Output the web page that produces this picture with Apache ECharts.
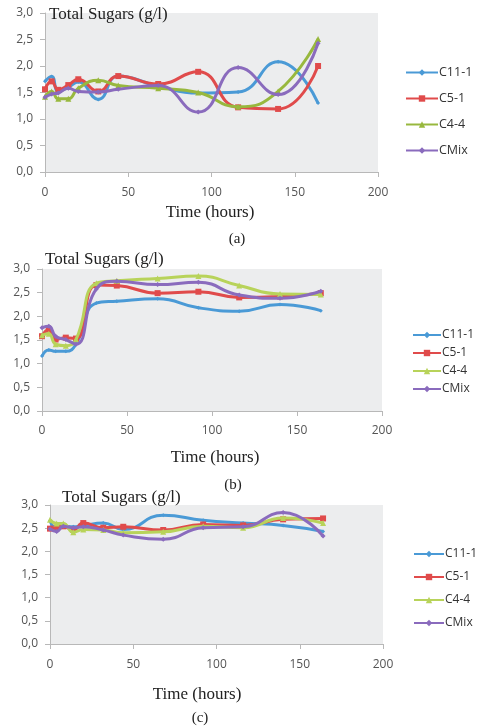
<!DOCTYPE html>
<html><head><meta charset="utf-8">
<script src="https://cdn.jsdelivr.net/npm/echarts@6/dist/echarts.min.js"></script>
<style>
html,body{margin:0;padding:0;background:#fff;width:479px;height:726px;overflow:hidden}
.p{position:absolute;left:0;width:479px}
</style></head><body>
<div id="pa" class="p" style="top:0;height:250px"></div>
<div id="pb" class="p" style="top:250px;height:245px"></div>
<div id="pc" class="p" style="top:488px;height:238px"></div>
<script>
const hours = [0, 4, 8, 14, 20, 32, 44, 68, 92, 116, 140, 164];
const seriesNames = ['C11-1', 'C5-1', 'C4-4', 'CMix'];
const xTicks = [0, 50, 100, 150, 200];
const yTicks = [0, 0.5, 1.0, 1.5, 2.0, 2.5, 3.0];

// Panel (a)
const a_C11 = [1.71, 1.80, 1.52, 1.60, 1.70, 1.37, 1.81, 1.62, 1.49, 1.51, 2.08, 1.30];
const a_C5  = [1.56, 1.71, 1.55, 1.64, 1.75, 1.52, 1.81, 1.66, 1.89, 1.22, 1.19, 2.00];
const a_C44 = [1.42, 1.52, 1.38, 1.38, 1.58, 1.73, 1.63, 1.58, 1.50, 1.23, 1.52, 2.51];
const a_CMix= [1.41, 1.47, 1.49, 1.58, 1.52, 1.51, 1.56, 1.63, 1.13, 1.97, 1.46, 2.43];
// Panel (b)
const b_C11 = [1.16, 1.29, 1.26, 1.26, 1.41, 2.28, 2.32, 2.37, 2.18, 2.11, 2.25, 2.12];
const b_C5  = [1.58, 1.72, 1.51, 1.55, 1.53, 2.66, 2.65, 2.49, 2.52, 2.40, 2.42, 2.49];
const b_C44 = [1.60, 1.63, 1.41, 1.38, 1.51, 2.70, 2.75, 2.80, 2.85, 2.65, 2.47, 2.46];
const b_CMix= [1.76, 1.79, 1.58, 1.51, 1.41, 2.58, 2.74, 2.67, 2.72, 2.45, 2.38, 2.53];
// Panel (c)
const c_C11 = [2.66, 2.49, 2.54, 2.53, 2.56, 2.61, 2.47, 2.78, 2.67, 2.61, 2.56, 2.43];
const c_C5  = [2.49, 2.51, 2.54, 2.46, 2.61, 2.51, 2.53, 2.46, 2.58, 2.56, 2.69, 2.71];
const c_C44 = [2.68, 2.60, 2.60, 2.41, 2.47, 2.46, 2.40, 2.42, 2.54, 2.51, 2.72, 2.61];
const c_CMix= [2.48, 2.43, 2.54, 2.51, 2.53, 2.46, 2.35, 2.26, 2.51, 2.53, 2.84, 2.33];

const titleText = 'Total Sugars (g/l)';
const xName = 'Time (hours)';

const serifFont = '"Liberation Serif", "Times New Roman", serif';
const sansFont = '"Open Sans", "DejaVu Sans", sans-serif';

function pairs(vals){ return hours.map((h,i)=>[h, vals[i]]); }

function makePanel(id, cfg){
  const chart = echarts.init(document.getElementById(id), null, {renderer:'canvas'});
  const colors = cfg.colors;
  const symbols = ['diamond','rect','triangle','diamond'];
  const symSizes = [4,6,6,5];
  const data = cfg.data;
  const series = seriesNames.map((n,i)=>({
    name:n, type:'line', smooth:0.5,
    data: pairs(data[i]),
    symbol: symbols[i], symbolSize: symSizes[i], showSymbol:true,
    itemStyle:{color:colors[i]},
    lineStyle:{color:colors[i], width:3},
    emphasis:{disabled:true}, animation:false, z: 2+i
  }));
  chart.setOption({
    animation:false,
    textStyle:{fontFamily:sansFont},
    grid:{left:cfg.grid.left, top:cfg.grid.top, width:cfg.grid.width, height:cfg.grid.height,
      show:true, backgroundColor:'#ecedee', borderWidth:0},
    xAxis:{type:'value', min:0, max:200, interval:50,
      axisLine:{show:true, lineStyle:{color:'#b8b8b8', width:1}},
      axisTick:{show:true, length:5, lineStyle:{color:'#b8b8b8'}},
      axisLabel:{color:'#555', fontSize:12, fontFamily:sansFont, margin:cfg.xMargin,
        formatter:v=> xTicks.includes(v) ? String(v) : ''},
      splitLine:{show:false}},
    yAxis:{type:'value', min:0, max:3, interval:0.5,
      axisLine:{show:true, lineStyle:{color:'#b8b8b8', width:1}},
      axisTick:{show:true, length:5, lineStyle:{color:'#b8b8b8'}},
      axisLabel:{color:'#555', fontSize:12, fontFamily:sansFont, margin:12,
        formatter:v=> yTicks.includes(v) ? v.toFixed(1).replace('.', ',') : ''},
      splitLine:{show:false}},
    legend:{orient:'vertical', left:cfg.legend.left, top:cfg.legend.top, padding:0,
      itemWidth:cfg.legend.iw, itemHeight:8, itemGap:cfg.legend.gap,
      textStyle:{fontSize:cfg.legend.fs, color:'#333', fontFamily:sansFont, padding:[0,0,0,-4]},
      data: seriesNames.slice(),
      selectedMode:false},
    graphic:[
      {type:'text', left:cfg.title.x, top:cfg.title.y, z:10,
        style:{text:titleText, font:'17px '+serifFont, fill:'#222'}},
      {type:'text', x:cfg.xname.x, y:cfg.xname.y, z:10,
        style:{text:xName, font:'17px '+serifFont, fill:'#222', align:'center', verticalAlign:'middle'}},
      {type:'text', x:cfg.cap.x, y:cfg.cap.y, z:10,
        style:{text:cfg.cap.t, font:'15px '+serifFont, fill:'#222', align:'center', verticalAlign:'middle'}}
    ],
    series
  });
}

const colA = ['#4a9ad6', '#e04b4b', '#98b83e', '#8a6bbd'];
const colBC = ['#4a9ad6', '#e04b4b', '#b8d35a', '#8a6bbd'];

makePanel('pa', {
  colors: colA, data:[a_C11, a_C5, a_C44, a_CMix],
  grid:{left:45, top:13, width:333, height:159}, xMargin:15,
  legend:{left:405, top:66, iw:32, gap:13, fs:12.5},
  title:{x:49, y:6}, xname:{x:210, y:213}, cap:{x:237, y:239, t:'(a)'}
});
makePanel('pb', {
  colors: colBC, data:[b_C11, b_C5, b_C44, b_CMix],
  grid:{left:42, top:19, width:340, height:142}, xMargin:14,
  legend:{left:412, top:79, iw:28, gap:6, fs:12},
  title:{x:45, y:1}, xname:{x:215, y:208}, cap:{x:233, y:235, t:'(b)'}
});
makePanel('pc', {
  colors: colBC, data:[c_C11, c_C5, c_C44, c_CMix],
  grid:{left:50, top:17, width:333, height:139}, xMargin:15,
  legend:{left:413, top:60, iw:30, gap:11, fs:12},
  title:{x:62, y:1}, xname:{x:197, y:207}, cap:{x:200, y:230, t:'(c)'}
});
</script>
</body></html>
